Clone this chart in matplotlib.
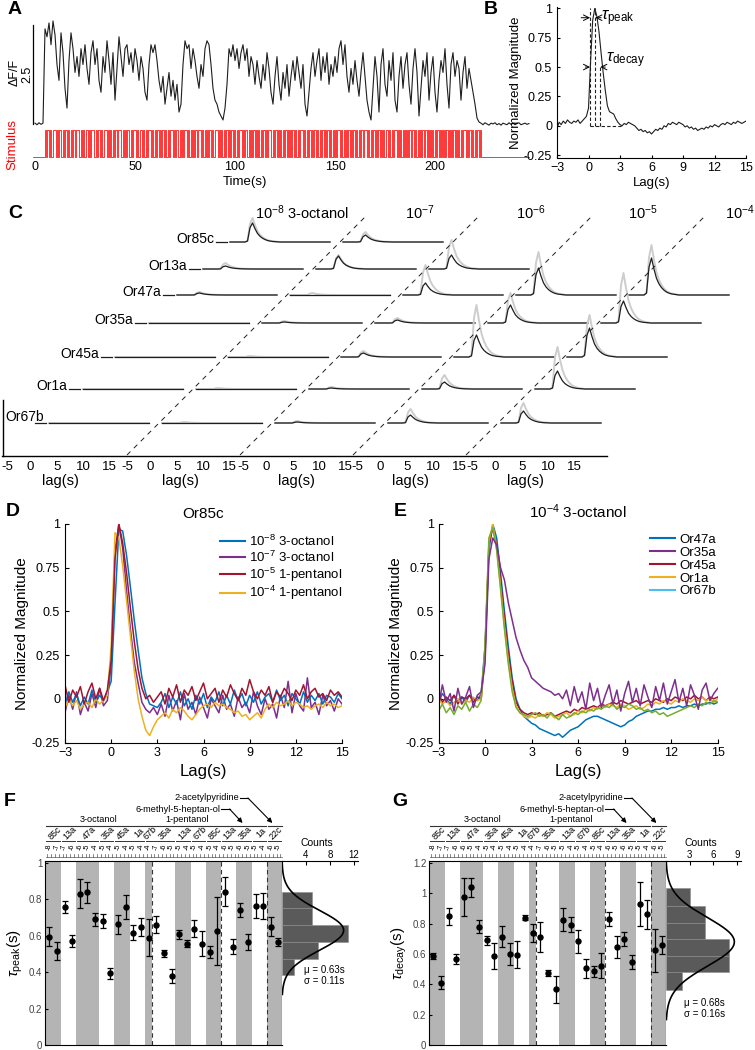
import numpy as np
import matplotlib
matplotlib.use("Agg")
import matplotlib.pyplot as plt
from matplotlib import transforms
from matplotlib.lines import Line2D

plt.rcParams["font.family"] = ["Liberation Sans", "DejaVu Sans"]
plt.rcParams["mathtext.fontset"] = "custom"
plt.rcParams["mathtext.rm"] = "Liberation Sans"
plt.rcParams["mathtext.it"] = "Liberation Sans:italic"
plt.rcParams["axes.linewidth"] = 0.8
plt.rcParams["xtick.direction"] = "in"
plt.rcParams["ytick.direction"] = "in"

# ---------------- data ----------------
# A: dF/F trace, one sample per second from t=0
a_trace = [0.02, -0.02, 0.03, -0.01, 0.02,
           2.4, 2.2, 2.55, 2.0, 2.6,
           2.25, 1.5, 1.1, 2.3, 1.8, 0.9, 0.4, 1.6, 2.3, 1.9,
           1.3, 1.7, 1.2, 1.9, 1.5, 2.0, 1.4, 1.0, 1.8, 2.1,
           1.5, 1.9, 1.1, 0.8, 1.7, 1.3, 2.1, 1.6, 1.0, 1.8,
           0.6, 1.4, 2.2, 1.7, 1.2, 1.9, 2.0, 1.5, 1.8, 1.3,
           1.9, 1.6, 1.1, 1.7, 1.4, 0.8, 0.6, 1.5, 2.0, 1.8,
           2.0, 1.6, 1.1, 0.8, 1.2, 0.5, 0.9, 1.3, 0.7, 1.1,
           0.6, 1.0, 0.3, 0.5, 1.5, 2.1, 1.9, 2.0, 1.4, 1.9,
           1.6, 1.2, 0.9, 1.5, 1.2, 1.9, 2.1, 2.0, 1.5, 0.9,
           0.6, 0.5, 0.3, 0.2, 0.1, 0.4, 1.0, 1.9, 1.7, 2.0,
           1.6, 1.9, 1.4, 1.8, 2.0, 1.6, 1.9, 1.2, 1.7, 1.5,
           1.0, 1.6, 1.2, 0.9, 1.5, 1.1, 1.8, 1.4, 0.8, 0.5,
           1.2, 1.7, 1.0, 0.6, 1.3, 0.9, 1.5, 0.7, 1.2, 1.6,
           1.1, 1.7, 1.3, 0.9, 1.5, 0.5, 0.2, 0.8, 1.4, 1.8,
           1.2, 1.6, 1.9, 1.1, 1.7, 1.3, 1.8, 1.0, 1.5, 1.2,
           1.7, 1.3, 1.9, 2.1, 1.5, 2.0, 1.2, 0.8, 1.4, 1.0,
           1.6, 1.1, 0.7, 1.3, 1.8, 1.2, 0.6, 0.3, 0.1, 0.9,
           1.7, 1.2, 0.3, 1.5, 1.9, 1.0, 0.7, 1.6, 1.1, 1.8,
           0.6, 0.3, 1.2, 1.7, 0.9, 1.5, 1.8, 1.0, 0.5, 1.4,
           1.9, 1.3, 0.2, 0.9, 1.6, 1.2, 1.8, 0.6, 1.3, 1.7,
           0.8, 0.3, 1.1, 1.6, 1.3, 1.9, 1.0, 0.4, 1.5, 1.8,
           1.2, 1.6, 1.4, 0.6, 1.3, 1.7, 0.9, 1.4, 1.1, 0.8,
           0.5, 0.15, 0.05, 0.02, -0.02, 0.03, 0.0, -0.03, 0.02, 0.0,
           0.03, -0.02, 0.01, -0.03, 0.02, 0.0, -0.02, 0.03, -0.01, 0.02,
           -0.02, 0.01, 0.03, -0.02, 0.0, 0.02, -0.01, 0.01]
# odor on/off in 0.5 s bins starting at t=5 s
a_stim = ("10110100111010110010" "11010010110111001010" "01101011100101101001"
          "11010100101101110010" "10110010111010011010" "01011101001011010110"
          "10010111010110010101" "11010010101101110100" "10101101001110101001"
          "01101011010010111010" "11001010110101001011" "01011100101101010010"
          "11010101101001011101" "00101101011010010110" "10110100101011101001"
          "01011010110100101101" "11010010110101101010" "01101001011101010010"
          "10101101101001010110" "11010101001011010101" "01101010110101001011"
          "1010110100101101")
a_stim_start, a_stim_bin = 5, 0.5

# B: normalized response, lag from -3.2 s in 0.2 s steps (x100)
b_lag0, b_step = -3.2, 0.2
b_resp = [0, -2, 3, 1, 4, 2, 5, 3, 2, 4, 3, 5, 2, 4, 6, 8,
          15, 55, 90, 100, 93, 80, 62, 45, 30, 17, 12, 11, 10, 6, 3, 1,
          0, 2, 1, 3, 2, 1, 0, -2, -4, -3, -5, -4, -6, -5, -7, -5, -3, -4, -2, -3,
          0, -1, 2, 1, 3, 2, 1, 3, 2, 1, -1, 0, -2, -1, -3, -2, -4, -3, -2, -3,
          -1, -2, 0, -1, 1, 0, -1, 1, 2, 1, 3, 2, 1, 3, 2, 4, 3, 2, 3, 4]

# C: response shape (lag -3.5..16.5 s, 0.5 s steps) and peak sizes per receptor / concentration
c_rows = ["Or85c", "Or13a", "Or47a", "Or35a", "Or45a", "Or1a", "Or67b"]
c_conc = ["10$^{-8}$ 3-octanol", "10$^{-7}$", "10$^{-6}$", "10$^{-5}$", "10$^{-4}$"]
c_kernel = [0, 0, 0, 0, 0, 0, 0, 0.05, 0.75, 1.0, 0.7, 0.45, 0.3, 0.2, 0.13, 0.08,
            0.05, 0.03, 0.02, 0.01, 0, 0, 0, 0, 0, 0, 0, 0, 0, 0, 0, 0, 0, 0, 0, 0,
            0, 0, 0, 0, 0]
c_black = [[19, 7],
           [3, 13, 14],
           [2, 0, 12, 27, 37],
           [0, 1, 3, 18, 22],
           [0, 0, 4, 22, 29],
           [0, 0, 1, 7, 18],
           [0, 0, 1, 8, 12]]
c_gray = [[24, 10],
          [6, 14, 29],
          [3, 2, 30, 43, 50],
          [0, 2, 5, 30, 50],
          [0, 1, 6, 52, 42],
          [0, 1, 2, 14, 42],
          [0, 1, 2, 14, 20]]

# D / E: normalized responses, lag from -3.25 s in 0.25 s steps (x100)
de_lag0, de_step = -3.25, 0.25
d_labels = ["10$^{-8}$ 3-octanol", "10$^{-7}$ 3-octanol", "10$^{-5}$ 1-pentanol", "10$^{-4}$ 1-pentanol"]
d_blue = [2, -3, 4, -2, 3, -4, 1, -3, 5, -2, 2, -1, 4,
          10, 55, 97, 96, 82, 64, 45, 28, 12, 3, -3, -4, -5,
          -2, 3, -5, 1, -3, 4, -4, 0, -6, 2, -3, 3, -5, 1, -2, 4, -4, 2, -3, 5,
          -1, 3, -4, 2, -2, 4, -3, 1, 3, -2, 5, -1, 2, -4, 3, 0, -3, 4, -2, 2,
          -1, 3, -3, 2, 1, -2, 3, 0]
d_purple = [-3, -8, 2, -6, 4, -9, -2, -7, 3, -5, 6, -4, -1,
            20, 85, 100, 86, 62, 40, 21, 9, -2, -6, -8, -5, -9,
            -3, -10, 2, -7, -1, -12, 3, -6, -2, -9, 1, -5, -11, 0, -4, -8, 2, -6, -3, -10,
            1, -5, -2, -8, 4, -4, -9, 0, -6, -3, -11, 2, -5, 10, -8, 3, -4, -7, 12, -5,
            -2, -9, 2, -4, -1, -7, 0, -3]
d_red = [3, 8, -2, 5, 1, 7, -3, 4, 9, 0, 6, -1, 5,
         22, 80, 100, 89, 72, 52, 33, 17, 6, 0, 2, -2, 1,
         4, -3, 6, 1, 8, -2, 5, 2, 7, -1, 4, 9, 0, 3, 6, -2, 5, 1, 8, 3,
         -1, 6, 2, 11, 4, 0, 5, 2, 7, -2, 4, 1, 6, 3, -1, 5, 2, 8, 0, 4,
         6, 1, 3, -1, 5, 2, 4, 1]
d_orange = [-2, -5, 0, -4, -1, -6, -3, -2, -5, 0, -3, -1, 2,
            30, 95, 92, 76, 56, 36, 16, 0, -10, -18, -21, -16, -12,
            -10, -8, -11, -6, -8, -5, -7, -10, -12, -9, -6, -4, -3, -5, -2, -4, -3, -5, -6, -8,
            -7, -10, -9, -12, -10, -8, -11, -6, -3, -5, -2, -4, -3, -1, -4, -2, -3, -5, -4, -6,
            -4, -3, -5, -2, -4, -3, -5, -4]

e_labels = ["Or47a", "Or35a", "Or45a", "Or1a", "Or67b"]
e_blue = [1, -2, 3, 0, -3, 2, -1, 1, -2, 2, 0, -1, 3,
          30, 85, 100, 92, 72, 50, 30, 12, 0, -6, -10, -12, -14,
          -15, -17, -18, -19, -20, -21, -20, -22, -20, -18, -17, -16, -14, -12, -11, -10,
          -10, -11, -12, -13, -14, -15, -16, -15, -13, -12, -10, -9, -8, -7, -7, -6,
          -6, -5, -6, -5, -5, -4, -5, -4, -4, -3, -4, -3, -3, -2, -3, -2]
e_purple = [5, -4, 8, -2, 3, -7, 6, -3, 1, 7, -5, 2, 4,
            20, 80, 92, 88, 75, 68, 55, 45, 35, 28, 22, 18, 12,
            10, 8, 6, 5, 4, 2, 3, 0, 5, -4, 7, -2, 4, -6, 9, -1, 6, -5, 2, 8,
            -3, 5, -7, 3, 10, -2, 6, -4, 8, 1, -5, 7, -1, 9, -3, 4, 11, -2, 6, -4,
            8, 2, -6, 5, 9, -1, 3, 6]
e_red = [0, 3, -2, 1, -1, 2, -3, 1, 0, 2, -2, 1, 0,
         25, 88, 98, 88, 68, 46, 26, 10, -2, -6, -8, -9, -8,
         -9, -8, -10, -9, -8, -10, -9, -8, -7, -8, -6, -7, -5, -6, -5, -4,
         -5, -3, -4, -3, -2, -3, -1, -2, -3, -2, -1, -3, -2, -1, -2, 0,
         -1, -2, 0, -1, 1, 0, -1, 1, 0, 2, 0, 1, -1, 1, 0, 1]
e_orange = [-2, 0, -3, -1, -4, -2, 0, -3, -1, -2, 1, -1, 0,
            28, 90, 100, 86, 64, 42, 22, 6, -4, -8, -10, -11, -10,
            -11, -9, -10, -8, -9, -11, -10, -9, -8, -10, -9, -7, -8, -6, -7, -5,
            -6, -4, -5, -3, -4, -5, -3, -4, -6, -5, -4, -6, -5, -3, -4, -2,
            -3, -1, -2, -3, -1, -2, 0, -1, -2, 0, -1, 1, -1, 0, -2, 0]
e_green = [-4, -7, -3, -8, -5, -9, -4, -6, -2, -7, -3, -5, -1,
           30, 92, 98, 85, 63, 40, 20, 4, -5, -8, -9, -10, -9,
           -8, -10, -9, -11, -8, -10, -12, -9, -11, -10, -8, -9, -7, -8, -6, -7,
           -5, -6, -4, -5, -3, -6, -4, -5, -3, -4, -6, -5, -7, -6, -8, -7,
           -9, -8, -10, -9, -8, -7, -6, -5, -4, -5, -3, -4, -2, -3, -1, -2]

# F / G: receptor / odor layout and time constants
rec_names = ["85c", "13a", "47a", "35a", "45a", "1a", "67b", "35a", "13a", "67b", "85c",
             "13a", "35a", "1a", "22c"]
rec_conc = [[-8, -7], [-7, -6], [-6, -5, -4], [-5, -4], [-5, -4], [-5, -4], [-4],
            [-7, -6, -5], [-5, -4], [-5, -4], [-5, -4],
            [-6, -5], [-6, -5], [-5, -4], [-6, -5]]
odor_names = ["3-octanol", "1-pentanol", "6-methyl-5-heptan-ol", "2-acetylpyridine"]
odor_nrec = [7, 4, 3, 1]

f_tau = [0.596, 0.515, 0.76, 0.57, 0.832, 0.838, 0.69, 0.68, 0.395, 0.664, 0.758, 0.616,
         0.65, 0.59, 0.662, 0.504, 0.38, 0.609, 0.557, 0.64, 0.557, 0.51, 0.625, 0.843,
         0.54, 0.742, 0.568, 0.764, 0.764, 0.65, 0.566]
f_err = [0.054, 0.05, 0.032, 0.034, 0.08, 0.057, 0.034, 0.039, 0.03, 0.052, 0.067, 0.041,
         0.049, 0.1, 0.049, 0.02, 0.039, 0.025, 0.02, 0.046, 0.068, 0.034, 0.187, 0.081,
         0.04, 0.039, 0.044, 0.066, 0.069, 0.053, 0.02]
f_edges = [0.382, 0.47, 0.566, 0.659, 0.751, 0.84]
f_counts = [2, 6, 11, 5, 5]

g_tau = [0.586, 0.412, 0.848, 0.568, 0.974, 1.04, 0.78, 0.69, 0.584, 0.714, 0.60, 0.595,
         0.84, 0.74, 0.714, 0.476, 0.368, 0.826, 0.793, 0.683, 0.507, 0.485, 0.522, 0.83,
         0.645, 0.70, 0.548, 0.93, 0.863, 0.623, 0.658]
g_err = [0.021, 0.046, 0.057, 0.034, 0.124, 0.062, 0.044, 0.028, 0.086, 0.068, 0.07, 0.088,
         0.017, 0.058, 0.1, 0.019, 0.088, 0.077, 0.05, 0.077, 0.063, 0.035, 0.083, 0.044,
         0.072, 0.047, 0.044, 0.145, 0.095, 0.14, 0.06]
g_edges = [0.363, 0.478, 0.59, 0.70, 0.804, 0.914, 1.035]
g_counts = [2, 8, 8, 5, 5, 3]

# matlab colours
c_blue, c_purple, c_red, c_orange, c_lblue, c_green = (
    "#0072BD", "#7E2F8E", "#A2142F", "#EDB120", "#4DBEEE", "#77AC30")

# ---------------- figure ----------------
W, H = 755, 1050
fig = plt.figure(figsize=(W / 100, H / 100), dpi=100)


def box(x0, y0, x1, y1):
    return fig.add_axes([x0 / W, 1 - y1 / H, (x1 - x0) / W, (y1 - y0) / H])


def ftext(x, y, s, **kw):
    fig.text(x / W, 1 - y / H, s, **kw)


for lab, x, y in [("A", 8, 10), ("B", 484, 9), ("C", 8, 213), ("D", 6, 512),
                  ("E", 394, 512), ("F", 4, 802), ("G", 392, 802)]:
    ftext(x, y, lab, fontsize=14, fontweight="bold", va="center")

# ---- A
axA = box(20, 15, 540, 160)
ta = np.arange(len(a_trace))
axA.plot(ta, a_trace, color="#1e1e1e", lw=0.8)
axA.plot([-1, -1], [0, 2.5], color="k", lw=0.9)
stim = np.array([int(ch) for ch in a_stim])
hi, lo = -0.15, -0.83
xs = np.concatenate([[-1], a_stim_start + a_stim_bin * np.arange(len(stim) + 1), [ta[-1]]])
ys = np.concatenate([[lo], np.where(stim == 1, hi, lo), [lo, lo]])
axA.step(xs, ys, where="post", color="#ff0000", lw=0.55)
axA.set_xlim(-7.5, 252.5)
axA.set_ylim(-0.91, 2.75)
for s in axA.spines.values():
    s.set_visible(False)
axA.set_xticks([0, 50, 100, 150, 200])
axA.tick_params(axis="x", length=0, pad=1, labelsize=9)
axA.set_yticks([])
ftext(245, 182, "Time(s)", fontsize=9.5, ha="center", va="center")
ftext(15, 72, "ΔF/F", fontsize=9, rotation=90, ha="center", va="center")
ftext(27, 74, "2.5", fontsize=9, rotation=90, ha="center", va="center")
ftext(12, 145, "Stimulus", fontsize=9.5, rotation=90, ha="center", va="center", color="#ff0000")

# ---- B
axB = box(557, 7.5, 746, 157.5)
lagB = b_lag0 + b_step * np.arange(len(b_resp))
axB.plot(lagB, np.array(b_resp) / 100, color="#1e1e1e", lw=0.8)
axB.set_xlim(-3, 15)
axB.set_ylim(-0.27, 1.007)
axB.set_xticks([-3, 0, 3, 6, 9, 12, 15])
axB.set_yticks([-0.25, 0, 0.25, 0.5, 0.75, 1])
axB.set_yticklabels(["-0.25", "0", "0.25", "0.5", "0.75", "1"])
axB.tick_params(labelsize=9, length=2.5)
for s in ["top", "right"]:
    axB.spines[s].set_visible(False)
axB.set_ylabel("Normalized Magnitude", fontsize=9.5, labelpad=1)
axB.set_xlabel("Lag(s)", fontsize=9.5, labelpad=2)
dash = dict(color="#1e1e1e", lw=0.8, ls=(0, (3, 2)))
axB.plot([0.15, 0.15], [0, 1], **dash)
axB.plot([0.65, 0.65], [0, 1], **dash)
axB.plot([1.12, 1.12], [0, 0.5], **dash)
axB.plot([0.15, 3.2], [0, 0], **dash)
arr = dict(arrowstyle="->", lw=0.7, color="k", shrinkA=0, shrinkB=0)
axB.annotate("", xy=(0.15, 0.92), xytext=(-0.7, 0.92), arrowprops=arr)
axB.annotate("", xy=(0.65, 0.92), xytext=(1.2, 0.92), arrowprops=arr)
axB.annotate("", xy=(0.15, 0.5), xytext=(-0.3, 0.5), arrowprops=arr)
axB.annotate("", xy=(1.12, 0.5), xytext=(1.6, 0.5), arrowprops=arr)
axB.text(1.2, 0.92, r"$\tau_{\mathrm{peak}}$", fontsize=12, va="center")
axB.text(1.7, 0.56, r"$\tau_{\mathrm{decay}}$", fontsize=12, va="center")

# ---- C
axC = box(0, 200, W, 490)
axC.set_xlim(0, W)
axC.set_ylim(490, 200)
axC.axis("off")
c_base = [242, 269, 295, 323, 357, 389, 423]
kern = np.array(c_kernel)
c_lag = -3.5 + 0.5 * np.arange(len(kern))
for r, name in enumerate(c_rows):
    base = c_base[r]
    shift = 455 - base
    for c in range(len(c_black[r])):
        x0 = 17 + 113 * c + shift
        xx = x0 + (c_lag - c_lag[0]) * 5.0
        axC.plot(xx, base - c_gray[r][c] * kern, color="#cdcdcd", lw=1.4)
        axC.plot(xx, base - c_black[r][c] * kern, color="#1e1e1e", lw=0.9)
    x0 = 17 + shift
    axC.plot([x0 - 14, x0 - 3], [base, base], color="#1e1e1e", lw=0.9)
    if x0 - 16 < 45:
        axC.text(5, base - 6, name, fontsize=10, ha="left", va="center")
    else:
        axC.text(x0 - 16, base - 3, name, fontsize=10, ha="right", va="center")
for k in range(4):
    xb = 127 + 113 * k
    axC.plot([xb, xb + 240], [455, 215], color="#1e1e1e", lw=0.7, ls=(0, (5, 5)))
axC.plot([2, 607], [456, 456], color="k", lw=1)
axC.plot([3, 3], [400, 456], color="k", lw=1)
for c, p in enumerate([7, 127, 243, 357, 472]):
    for off, v in zip([0, 23, 50, 76, 102], [-5, 0, 5, 10, 15]):
        axC.text(p + off, 467, str(v), fontsize=9.5, ha="center", va="center")
    axC.text(p + 53, 481, "lag(s)", fontsize=10.5, ha="center", va="center")
axC.text(255, 213, c_conc[0], fontsize=10.5, ha="left", va="center")
for lab, x in zip(c_conc[1:], [420, 531, 643, 740]):
    axC.text(x, 213, lab, fontsize=10.5, ha="center", va="center")


# ---- D / E
def resp_axes(x0, x1, traces, colors, order, title, labels, leg_colors, leg_anchor):
    ax = box(x0, 524, x1, 742.5)
    for i in order:
        y = np.array(traces[i]) / 100
        lag = de_lag0 + de_step * np.arange(len(y))
        ax.plot(lag, y, color=colors[i], lw=1.1)
    ax.set_xlim(-3, 15)
    ax.set_ylim(-0.25, 1)
    ax.set_xticks([-3, 0, 3, 6, 9, 12, 15])
    ax.set_yticks([-0.25, 0, 0.25, 0.5, 0.75, 1])
    ax.set_yticklabels(["-0.25", "0", "0.25", "0.5", "0.75", "1"])
    ax.tick_params(labelsize=9, length=3)
    for s in ["top", "right"]:
        ax.spines[s].set_visible(False)
    ax.set_xlabel("Lag(s)", fontsize=12, labelpad=3)
    ax.set_ylabel("Normalized Magnitude", fontsize=11, labelpad=2)
    ax.set_title(title, fontsize=11, pad=4)
    handles = [Line2D([], [], color=c, lw=1.5) for c in leg_colors]
    ax.legend(handles, labels, loc="upper left", bbox_to_anchor=leg_anchor, frameon=False,
              fontsize=9.5, handlelength=1.9, handletextpad=0.3, labelspacing=0.05,
              borderaxespad=0)
    return ax


resp_axes(65, 342, [d_blue, d_purple, d_red, d_orange],
          [c_blue, c_purple, c_red, c_orange], [1, 0, 3, 2], "Or85c", d_labels,
          [c_blue, c_purple, c_red, c_orange], (0.54, 0.98))
resp_axes(438.5, 717.7, [e_blue, e_purple, e_red, e_orange, e_green],
          [c_blue, c_purple, c_red, c_orange, c_green], [0, 2, 3, 4, 1],
          "10$^{-4}$ 3-octanol", e_labels,
          [c_blue, c_purple, c_red, c_orange, c_lblue], (0.74, 0.98))


# ---- F / G
def tau_panel(x0, x1, xh1, ytop, yticks, yticklabels, vals, errs, edges, counts, cmax,
              cticks, mu, sigma, ylabel, stat_xy):
    n = len(vals)
    ax = box(x0, 861, x1, 1045)
    pts = np.arange(1, n + 1)
    ax.set_xlim(0.44, n + 0.46)
    ax.set_ylim(0, ytop)
    starts = np.cumsum([0] + [len(cc) for cc in rec_conc])
    for j in range(len(rec_names)):
        if j % 2 == 0:
            ax.axvspan(starts[j] + 0.5, starts[j + 1] + 0.5, color="#b4b4b4", lw=0)
    gb = np.cumsum([0] + odor_nrec)
    for g in gb[1:-1]:
        ax.axvline(starts[g] + 0.5, color="#333333", lw=0.8, ls=(0, (4, 3)))
    ax.errorbar(pts, vals, yerr=errs, fmt="o", color="k", ms=3.6, capsize=2.2,
                elinewidth=0.9, capthick=0.9)
    ax.set_xticks([])
    ax.set_yticks(yticks)
    ax.set_yticklabels(yticklabels)
    ax.tick_params(axis="y", labelsize=7, labelcolor="#444444", length=2.5, pad=2)
    ax.set_ylabel(ylabel, fontsize=11, labelpad=3)

    # header with odor / receptor / concentration labels
    tr = transforms.blended_transform_factory(ax.transData, fig.transFigure)

    def fy(ypx):
        return 1 - ypx / H

    for i in np.arange(0.75, n + 0.3, 0.5):
        ax.plot([i, i], [fy(853.5), fy(857)], color="#555555", lw=0.5, transform=tr,
                clip_on=False)
    ax.plot([0.6, n + 0.4], [fy(857), fy(857)], color="#555555", lw=0.5, transform=tr,
            clip_on=False)
    for j, name in enumerate(rec_names):
        a, b = starts[j] + 1, starts[j + 1]
        for k, v in enumerate(rec_conc[j]):
            ax.text(a + k, fy(847), "-%d" % abs(v), fontsize=5.2, rotation=90,
                    ha="center", va="center", transform=tr)
        ax.plot([a - 0.38, b + 0.38], [fy(841), fy(841)], color="#333333", lw=0.7,
                transform=tr, clip_on=False)
        ax.text((a + b) / 2 + 0.2, fy(833), name, fontsize=6.5, rotation=45, ha="center",
                va="center", transform=tr)
    for g in range(len(odor_names)):
        a, b = starts[gb[g]] + 1, starts[gb[g + 1]]
        ax.plot([a - 0.42, b + 0.42], [fy(826), fy(826)], color="#333333", lw=0.8,
                transform=tr, clip_on=False)
    for g in range(2):
        a, b = starts[gb[g]] + 1, starts[gb[g + 1]]
        ax.text((a + b) / 2, fy(819.5), odor_names[g], fontsize=6.6, ha="center",
                va="center", transform=tr)
    ap = dict(arrowstyle="-|>", lw=0.8, color="k", mutation_scale=7, shrinkA=0, shrinkB=0)
    ax.text(23.4, fy(809), odor_names[2], fontsize=6.6, ha="right", va="center", transform=tr)
    ax.plot([23.5, 24.6], [fy(809), fy(809)], color="k", lw=0.8, transform=tr, clip_on=False)
    ax.annotate("", xy=(26.3, fy(823)), xytext=(24.6, fy(809)), xycoords=tr,
                textcoords=tr, arrowprops=ap)
    ax.text(25.8, fy(798), odor_names[3], fontsize=6.6, ha="right", va="center", transform=tr)
    ax.plot([25.9, 27.0], [fy(798), fy(798)], color="k", lw=0.8, transform=tr, clip_on=False)
    ax.annotate("", xy=(30.2, fy(823)), xytext=(27.0, fy(798)), xycoords=tr,
                textcoords=tr, arrowprops=ap)

    # histogram
    axh = box(x1, 861, xh1, 1045)
    e = np.array(edges)
    axh.barh(e[:-1], counts, height=np.diff(e), align="edge", color="#5a5a5a",
             edgecolor="#8c8c8c", lw=0.4)
    binw = np.mean(np.diff(e))
    yy = np.linspace(mu - 3.2 * sigma, ytop, 200)
    pdf = np.exp(-0.5 * ((yy - mu) / sigma) ** 2) / (sigma * np.sqrt(2 * np.pi))
    axh.plot(len(vals) * binw * pdf, yy, color="k", lw=1.2)
    axh.set_ylim(0, ytop)
    axh.set_xlim(0, cmax)
    axh.xaxis.tick_top()
    axh.set_xticks(cticks)
    axh.set_yticks([])
    axh.tick_params(axis="x", labelsize=7, length=3, pad=1)
    for s in ["bottom", "left", "right"]:
        axh.spines[s].set_visible(False)
    ftext((x1 + xh1) / 2 - 3, 843, "Counts", fontsize=7.5, ha="center", va="center")
    ftext(stat_xy[0], stat_xy[1], "μ = %.2fs" % mu, fontsize=7, va="center")
    ftext(stat_xy[0], stat_xy[1] + 11, "σ = %.2fs" % sigma, fontsize=7, va="center")


tau_panel(45, 282, 358, 1.011, [0, 0.2, 0.4, 0.6, 0.8, 1],
          ["0", "0.2", "0.4", "0.6", "0.8", "1"], f_tau, f_err, f_edges, f_counts,
          12.7, [4, 8, 12], 0.63, 0.11, r"$\tau_{\mathrm{peak}}$(s)", (304, 970))
tau_panel(429, 666, 741, 1.213, [0, 0.2, 0.4, 0.6, 0.8, 1, 1.2],
          ["0", "0.2", "0.4", "0.6", "0.8", "1", "1.2"], g_tau, g_err, g_edges, g_counts,
          9.5, [3, 6, 9], 0.68, 0.16, r"$\tau_{\mathrm{decay}}$(s)", (684, 1003))

fig.savefig("out.png", dpi=100)
